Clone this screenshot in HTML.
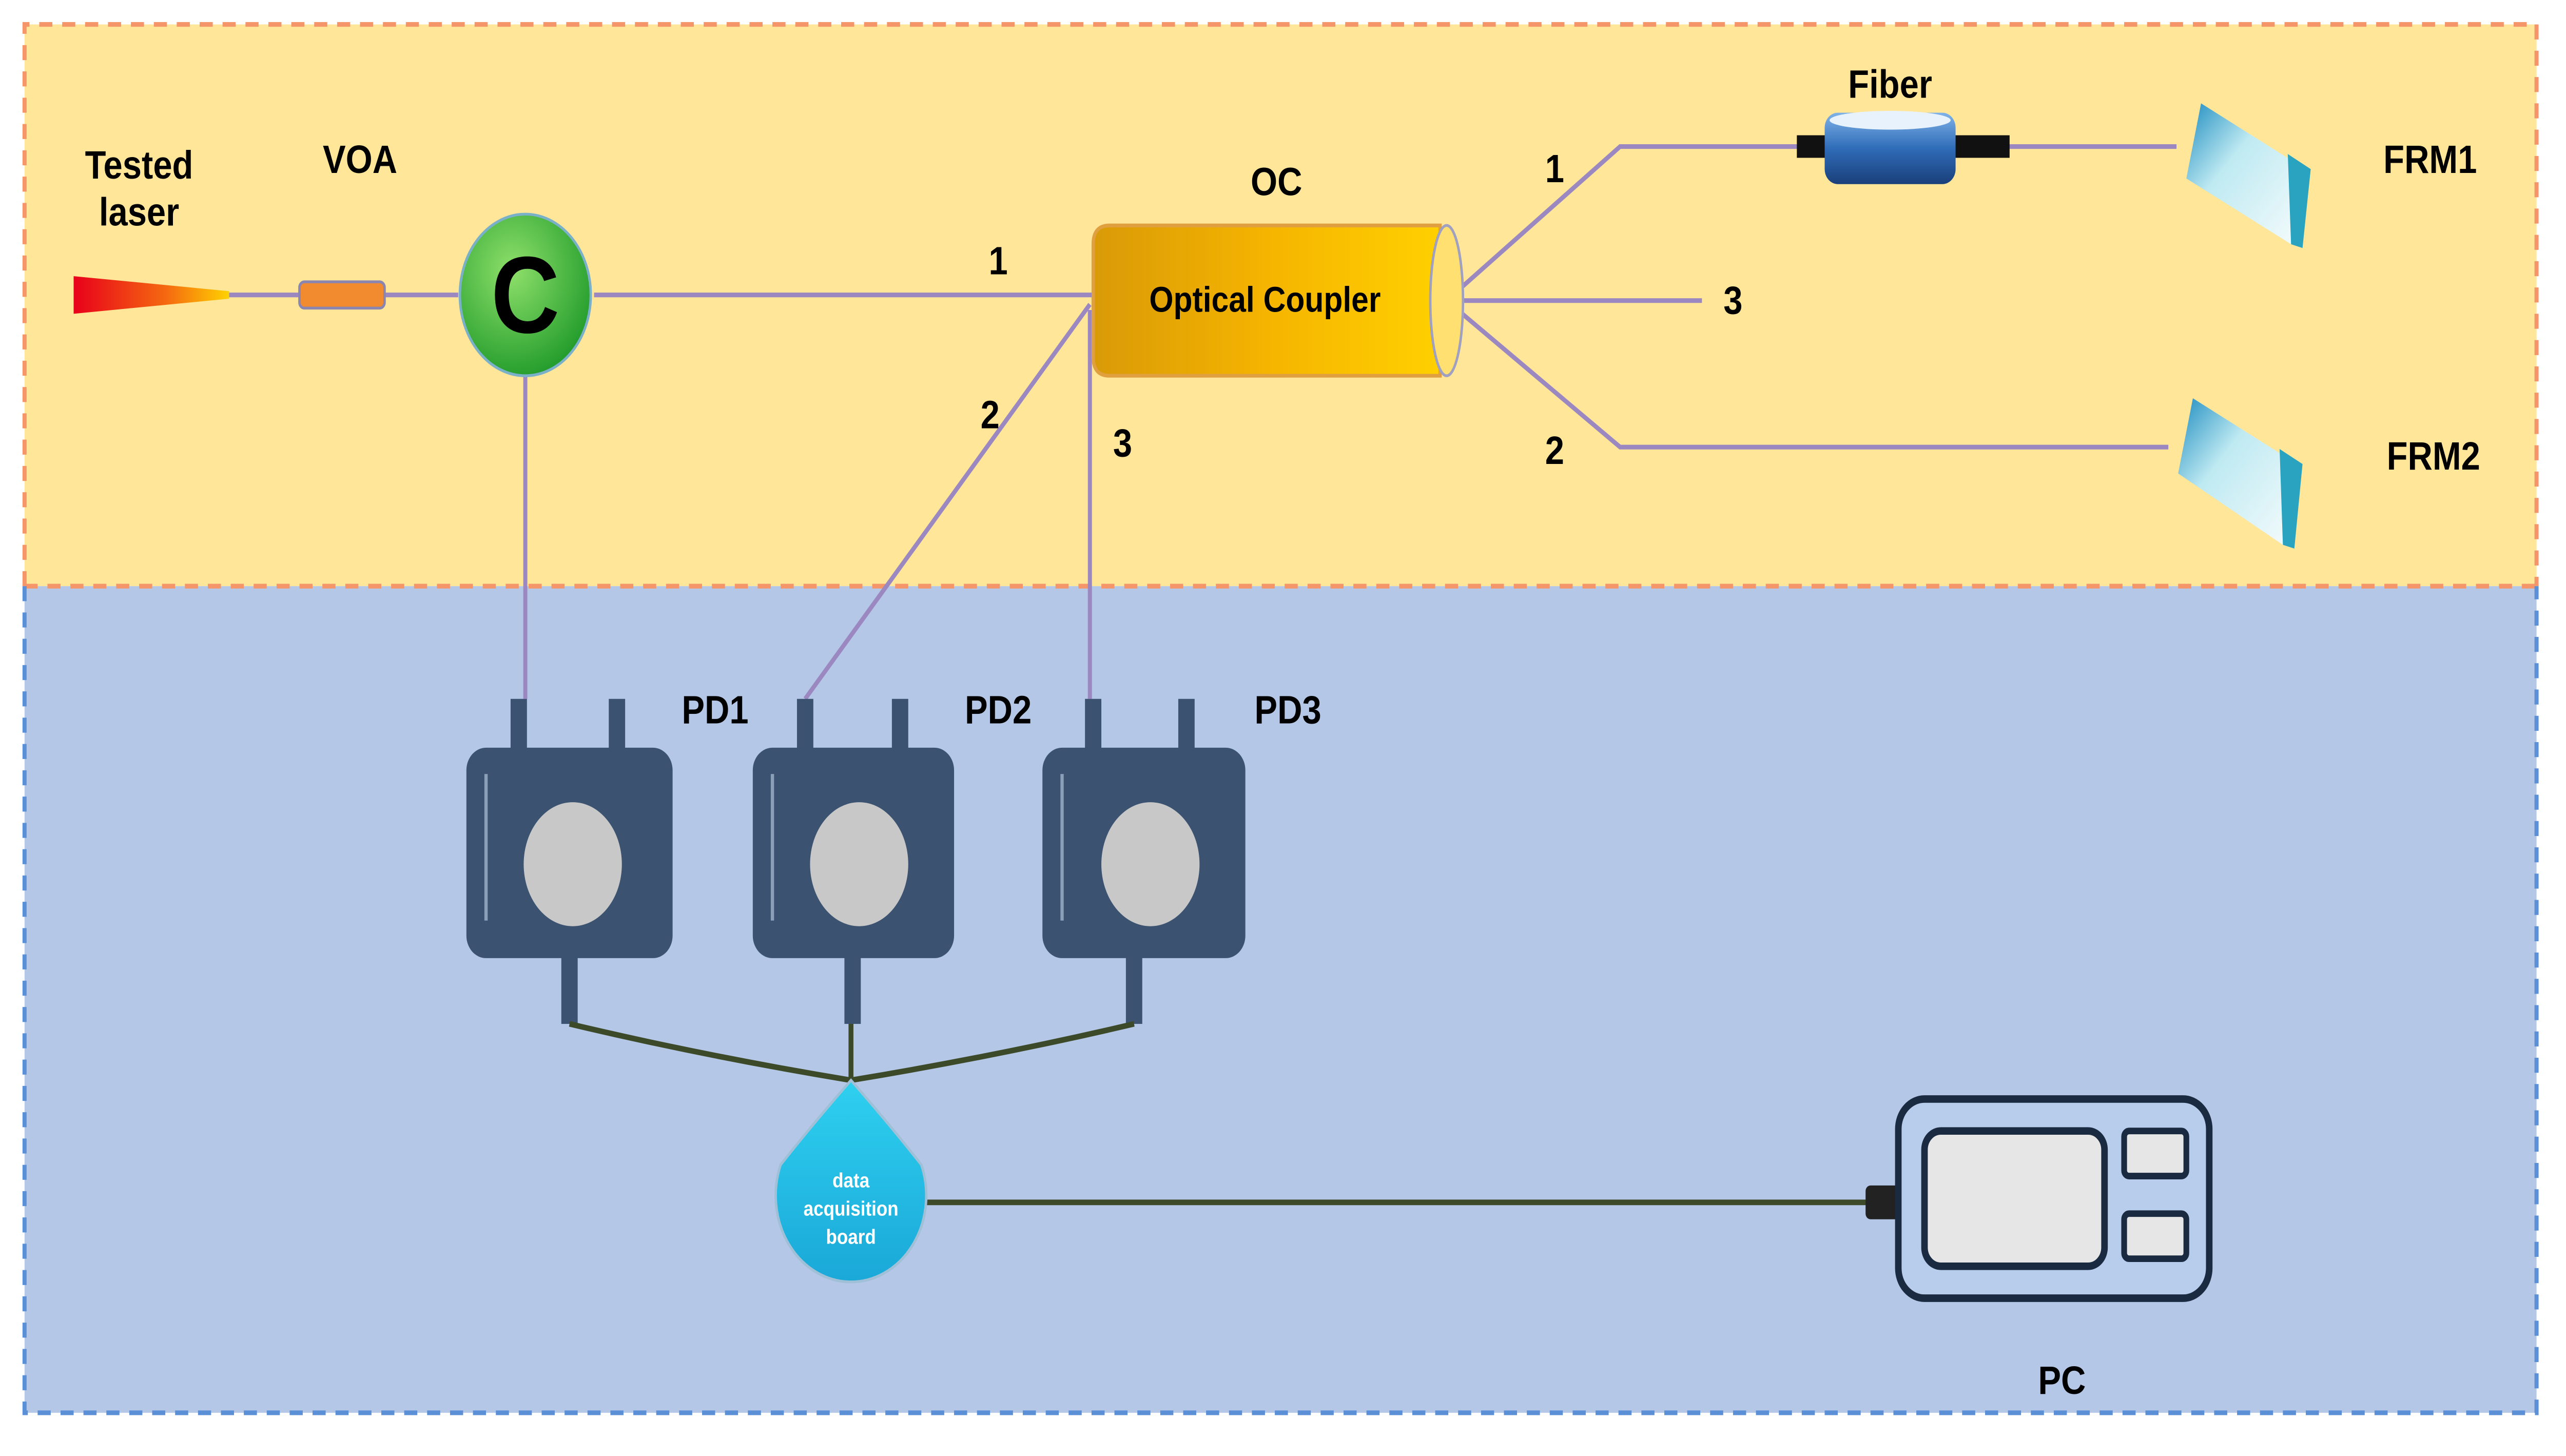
<!DOCTYPE html>
<html><head><style>html,body{margin:0;padding:0;background:#fff;width:100%;height:100%;overflow:hidden}svg{display:block;position:fixed;left:0;top:0;width:100vw;height:100vh}</style></head>
<body>
<svg viewBox="0 0 1568 775" preserveAspectRatio="none" xmlns="http://www.w3.org/2000/svg" font-family="Liberation Sans, sans-serif" font-weight="bold">
<defs>
<linearGradient id="las" x1="0" x2="1"><stop offset="0" stop-color="#e8001a"/><stop offset="0.6" stop-color="#f56a10"/><stop offset="1" stop-color="#ffd200"/></linearGradient>
<radialGradient id="cg" cx="0.4" cy="0.35" r="0.7"><stop offset="0" stop-color="#8fe06a"/><stop offset="1" stop-color="#1f9a2a"/></radialGradient>
<linearGradient id="oc" x1="0" x2="1"><stop offset="0" stop-color="#d99a08"/><stop offset="0.5" stop-color="#f5b400"/><stop offset="1" stop-color="#ffd000"/></linearGradient>
<linearGradient id="fb" x1="0" y1="0" x2="0" y2="1"><stop offset="0" stop-color="#7fb2e8"/><stop offset="0.5" stop-color="#2f6cb8"/><stop offset="1" stop-color="#1a3f7a"/></linearGradient>
<linearGradient id="mr" x1="0" y1="0" x2="1" y2="1"><stop offset="0" stop-color="#1d8cc0"/><stop offset="0.4" stop-color="#bfeaf2"/><stop offset="1" stop-color="#f4fbfc"/></linearGradient>
<linearGradient id="dr" x1="0" y1="0" x2="0" y2="1"><stop offset="0" stop-color="#2fd0f0"/><stop offset="1" stop-color="#1aa8d8"/></linearGradient>
</defs>
<rect x="0" y="0" width="1568" height="775" fill="#fff"/>
<rect x="15" y="13" width="1535" height="299" fill="#ffe699"/>
<rect x="15" y="312" width="1535" height="440" fill="#b4c7e7"/>
<path d="M15 312 V13 H1550 V312" fill="none" stroke="#f4956a" stroke-width="2.5" stroke-dasharray="8 6"/>
<line x1="15" y1="312" x2="1550" y2="312" stroke="#f4956a" stroke-width="2.5" stroke-dasharray="8 6"/>
<path d="M15 312 V752 H1550 V312" fill="none" stroke="#5b8fd6" stroke-width="2.5" stroke-dasharray="8 6"/>

<g stroke="#9b88c0" stroke-width="2.5" fill="none">
<line x1="140" y1="157" x2="280" y2="157"/>
<line x1="363" y1="157" x2="668" y2="157"/>
<polyline points="884,160 990,78 1330,78"/>
<line x1="884" y1="160" x2="1040" y2="160"/>
<polyline points="884,160 990,238 1325,238"/>
<line x1="321" y1="199" x2="321" y2="372"/>
<line x1="666" y1="162" x2="492" y2="372"/>
<line x1="666" y1="165" x2="666" y2="372"/>
</g>
<polygon points="45,147 140,155 140,159 45,167" fill="url(#las)"/>
<rect x="183" y="150" width="52" height="14" rx="3" fill="#f28a30" stroke="#8a86b0" stroke-width="1.5"/>
<ellipse cx="321" cy="157" rx="40" ry="43" fill="url(#cg)" stroke="#7ab0c8" stroke-width="1.5"/>
<text x="321" y="177" font-size="58" text-anchor="middle" fill="#000">C</text>
<path d="M678 120 H880 V200 H678 Q668 200 668 190 V130 Q668 120 678 120Z" fill="url(#oc)" stroke="#e0a040" stroke-width="2"/>
<ellipse cx="884" cy="160" rx="10" ry="40" fill="#ffe070" stroke="#a0a0c0" stroke-width="1.5"/>
<text x="773" y="166" font-size="19" text-anchor="middle" fill="#000">Optical Coupler</text>
<rect x="1098" y="72" width="130" height="12" fill="#111"/>
<rect x="1115" y="60" width="80" height="38" rx="8" fill="url(#fb)"/>
<ellipse cx="1155" cy="64" rx="37" ry="5" fill="#e8f2fc"/>
<polygon points="1345,55 1405,88 1400,130 1336,95" fill="url(#mr)"/>
<polygon points="1398,82 1412,90 1407,132 1400,130" fill="#2aa3c0"/>
<polygon points="1340,212 1400,245 1395,290 1331,252" fill="url(#mr)"/>
<polygon points="1393,239 1407,247 1402,292 1395,290" fill="#2aa3c0"/>

<g font-size="21" fill="#000" text-anchor="middle">
<text x="85" y="95">Tested</text><text x="85" y="120">laser</text>
<text x="220" y="92">VOA</text>
<text x="780" y="104">OC</text>
<text x="610" y="146">1</text>
<text x="605" y="228">2</text>
<text x="686" y="243">3</text>
<text x="950" y="97">1</text>
<text x="1059" y="167">3</text>
<text x="950" y="247">2</text>
<text x="1155" y="52">Fiber</text>
<text x="1485" y="92">FRM1</text>
<text x="1487" y="250">FRM2</text>
<text x="437" y="385">PD1</text>
<text x="610" y="385">PD2</text>
<text x="787" y="385">PD3</text>
<text x="1260" y="742">PC</text>
</g>

<g fill="#3b5270">
<rect x="312" y="372" width="10" height="30"/><rect x="372" y="372" width="10" height="30"/>
<rect x="285" y="398" width="126" height="112" rx="12"/><rect x="343" y="508" width="10" height="37"/>
<rect x="487" y="372" width="10" height="30"/><rect x="545" y="372" width="10" height="30"/>
<rect x="460" y="398" width="123" height="112" rx="12"/><rect x="516" y="508" width="10" height="37"/>
<rect x="663" y="372" width="10" height="30"/><rect x="720" y="372" width="10" height="30"/>
<rect x="637" y="398" width="124" height="112" rx="12"/><rect x="688" y="508" width="10" height="37"/>
</g>
<g fill="#c8c8c8"><ellipse cx="350" cy="460" rx="30" ry="33"/><ellipse cx="525" cy="460" rx="30" ry="33"/><ellipse cx="703" cy="460" rx="30" ry="33"/></g>
<g stroke="#8aa0b8" stroke-width="2"><line x1="297" y1="412" x2="297" y2="490"/><line x1="472" y1="412" x2="472" y2="490"/><line x1="649" y1="412" x2="649" y2="490"/></g>
<g stroke="#3d4a2a" stroke-width="3" fill="none">
<path d="M348 545 Q430 562 520 575"/><path d="M693 545 Q610 562 520 575"/><line x1="520" y1="545" x2="520" y2="575"/>
<line x1="565" y1="640" x2="1145" y2="640"/>
</g>
<path d="M520 575 Q545 600 563 620 A46 46 0 1 1 477 620 Q495 600 520 575Z" fill="url(#dr)" stroke="#a0c0d8" stroke-width="1.5"/>
<g font-size="11" fill="#fff" text-anchor="middle"><text x="520" y="632">data</text><text x="520" y="647">acquisition</text><text x="520" y="662">board</text></g>
<rect x="1140" y="631" width="22" height="18" rx="3" fill="#222"/>
<rect x="1160" y="585" width="190" height="106" rx="16" fill="#b8ccec" stroke="#1a2a40" stroke-width="4"/>
<rect x="1176" y="602" width="110" height="72" rx="10" fill="#e6e6e6" stroke="#1a2a40" stroke-width="4"/>
<rect x="1298" y="602" width="38" height="24" rx="3" fill="#e6e6e6" stroke="#1a2a40" stroke-width="3.5"/>
<rect x="1298" y="646" width="38" height="24" rx="3" fill="#e6e6e6" stroke="#1a2a40" stroke-width="3.5"/>
</svg>
</body></html>
